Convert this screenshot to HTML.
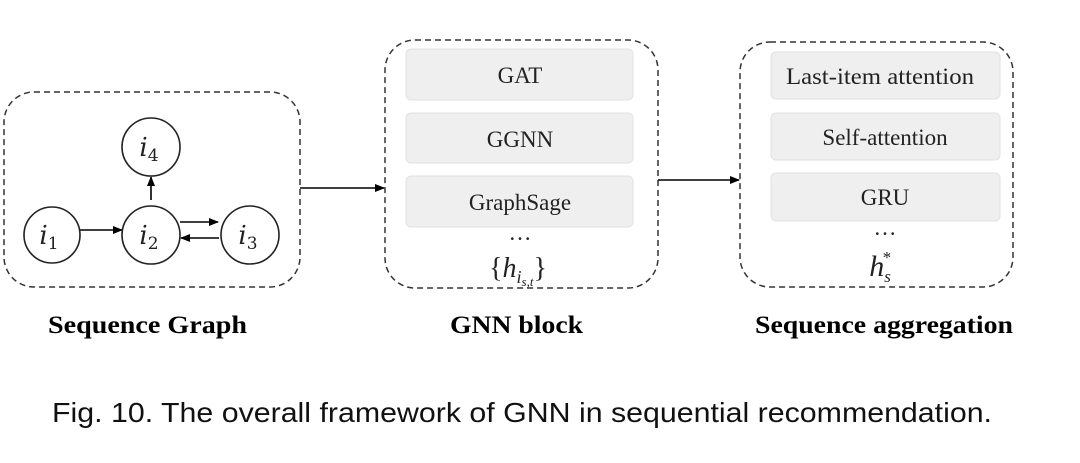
<!DOCTYPE html>
<html><head><style>
body{margin:0;background:#fff;width:1080px;height:463px;overflow:hidden}
svg{display:block}
</style></head><body>
<svg width="1080" height="463" viewBox="0 0 1080 463" xmlns="http://www.w3.org/2000/svg">
<defs><marker id="a" markerWidth="10" markerHeight="8" refX="9" refY="4" orient="auto" markerUnits="userSpaceOnUse"><path d="M0,0L10,4L0,8z" fill="#000"/></marker></defs>
<g fill="none" stroke="#333" stroke-width="1.5" stroke-dasharray="6,4">
<rect x="4" y="92" width="296" height="195" rx="30"/>
<rect x="385" y="40" width="273" height="248" rx="30"/>
<rect x="740" y="42" width="273" height="245" rx="30"/>
</g>
<g fill="#efefef" stroke="#e2e2e2">
<rect x="406" y="49" width="227" height="51" rx="5"/>
<rect x="406" y="113" width="227" height="50" rx="5"/>
<rect x="406" y="176" width="227" height="51" rx="5"/>
<rect x="771" y="52" width="229" height="47" rx="5"/>
<rect x="771" y="113" width="229" height="47" rx="5"/>
<rect x="771" y="173" width="229" height="48" rx="5"/>
</g>
<g stroke="#000" stroke-width="1.6" fill="none">
<line x1="300" y1="188" x2="384" y2="188" marker-end="url(#a)"/>
<line x1="658" y1="180" x2="739" y2="180" marker-end="url(#a)"/>
<line x1="80" y1="230" x2="122" y2="230" marker-end="url(#a)"/>
<line x1="151" y1="200" x2="151" y2="177" marker-end="url(#a)"/>
<line x1="180" y1="222" x2="218" y2="222" marker-end="url(#a)"/>
<line x1="219" y1="238" x2="181" y2="238" marker-end="url(#a)"/>
</g>
<g stroke="#222" stroke-width="1.6" fill="#fff">
<circle cx="52" cy="235" r="28"/>
<circle cx="151" cy="235" r="29"/>
<circle cx="250" cy="235" r="29"/>
<circle cx="151" cy="147" r="29"/>
</g>
<g font-family="'DejaVu Serif','Liberation Serif',serif" font-style="italic" font-size="26" fill="#222" text-anchor="middle">
<text x="49" y="244">i<tspan font-size="17" font-style="normal" dy="5">1</tspan></text>
<text x="149" y="244">i<tspan font-size="17" font-style="normal" dy="5">2</tspan></text>
<text x="248" y="244">i<tspan font-size="17" font-style="normal" dy="5">3</tspan></text>
<text x="149" y="156">i<tspan font-size="17" font-style="normal" dy="5">4</tspan></text>
</g>
<g font-family="'Liberation Serif',serif" font-size="23" fill="#222" text-anchor="middle">
<text x="520" y="83">GAT</text>
<text x="520" y="147">GGNN</text>
<text x="520" y="210">GraphSage</text>
<text x="520" y="240">…</text>
<text x="880" y="84" textLength="188" lengthAdjust="spacingAndGlyphs">Last-item  attention</text>
<text x="885" y="145">Self-attention</text>
<text x="885" y="205">GRU</text>
<text x="885" y="235">…</text>
<text x="518" y="277" font-size="28">{<tspan font-style="italic">h</tspan><tspan font-style="italic" font-size="18" dy="6">i</tspan><tspan font-style="italic" font-size="13" dy="3">s,t</tspan><tspan dy="-9">}</tspan></text>
<text x="880" y="276" font-size="30" font-style="italic">h<tspan font-size="17" dy="6">s</tspan><tspan font-size="17" dx="-9" dy="-19">*</tspan></text>
</g>
<g font-family="'Liberation Serif',serif" font-weight="bold" font-size="25" fill="#000">
<text x="48" y="333" textLength="199" lengthAdjust="spacingAndGlyphs">Sequence Graph</text>
<text x="450" y="333" textLength="133" lengthAdjust="spacingAndGlyphs">GNN block</text>
<text x="755" y="333" textLength="258" lengthAdjust="spacingAndGlyphs">Sequence aggregation</text>
</g>
<text x="52" y="422" font-family="'Liberation Sans',sans-serif" font-size="28" fill="#111" textLength="940" lengthAdjust="spacingAndGlyphs">Fig. 10.  The overall framework of GNN in sequential recommendation.</text>
</svg>
</body></html>
